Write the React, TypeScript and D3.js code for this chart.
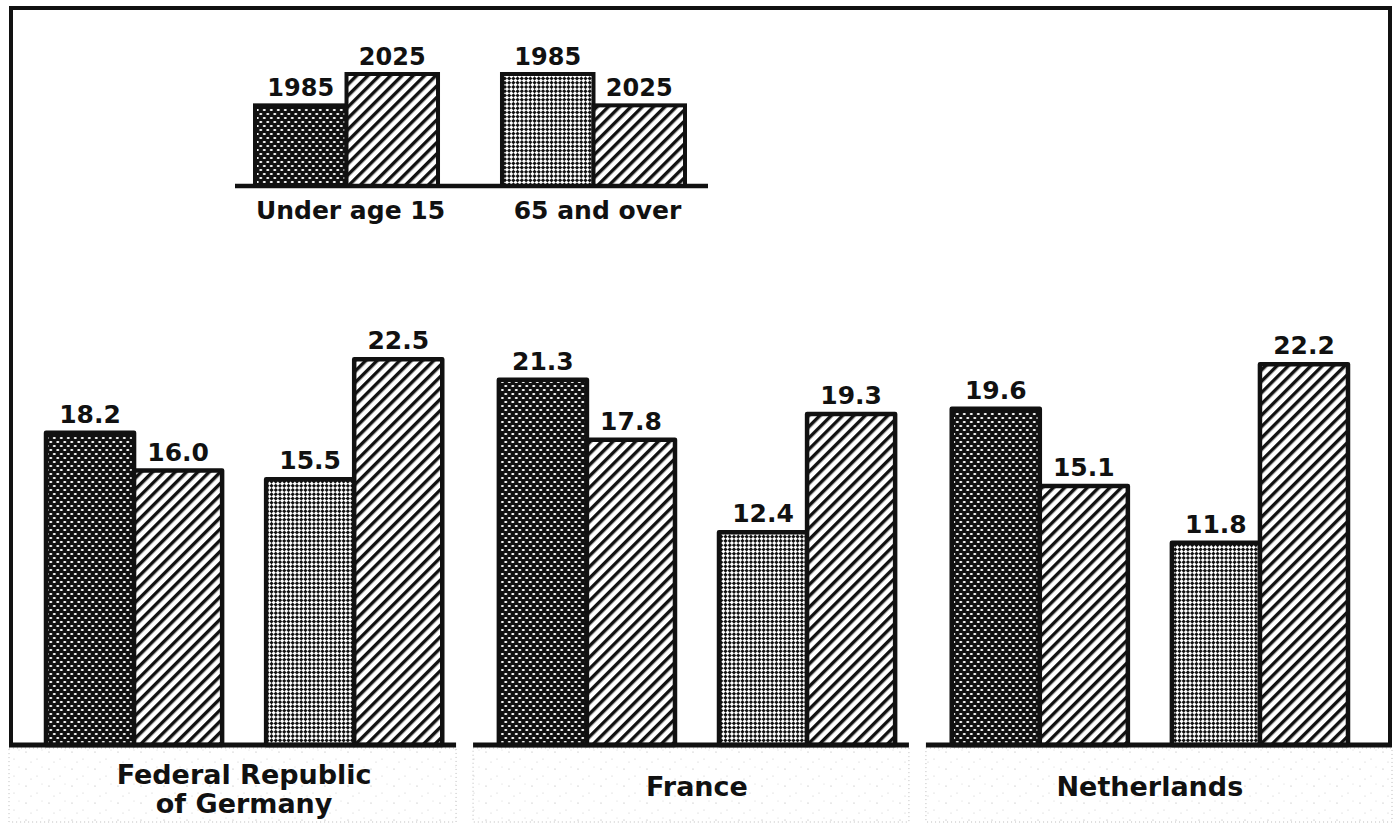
import * as d3 from "d3";

// values (percent of population)
const countries = ["Federal Republic of Germany", "France", "Netherlands"];
const countryLines = [["Federal Republic", "of Germany"], ["France"], ["Netherlands"]];
const ageGroups = ["Under age 15", "65 and over"];
const years = ["1985", "2025"];
const under15_1985 = [18.2, 21.3, 19.6];
const under15_2025 = [16.0, 17.8, 15.1];
const over65_1985 = [15.5, 12.4, 11.8];
const over65_2025 = [22.5, 19.3, 22.2];
// key bars are only relative heights
const keyUnder15 = [0.72, 1];
const keyOver65 = [1, 0.72];

const W = 1397;
const H = 826;
const FONT = "'DejaVu Sans', 'Liberation Sans', sans-serif";
const fmt = d3.format(".1f");

const baseY = 745;
const frameL = 11;
const frameR = 1390;
const frameT = 8;

const fillFor = (age: string, year: string) =>
  year === "2025" ? "url(#hatch)" : age === ageGroups[0] ? "url(#dark)" : "url(#light)";

export default function App() {
  const x0 = d3.scaleBand().domain(countries).range([46, 1348]).paddingInner(0.125);
  const x1 = d3.scaleBand().domain(ageGroups).range([0, x0.bandwidth()]).paddingInner(0.2);
  const x2 = d3.scaleBand().domain(years).range([0, x1.bandwidth()]);
  const y = d3.scaleLinear().domain([0, 25]).range([baseY, baseY - 25 * 17.15]);

  const rows = countries.flatMap((c, i) => [
    { c, age: ageGroups[0], year: years[0], v: under15_1985[i] },
    { c, age: ageGroups[0], year: years[1], v: under15_2025[i] },
    { c, age: ageGroups[1], year: years[0], v: over65_1985[i] },
    { c, age: ageGroups[1], year: years[1], v: over65_2025[i] },
  ]);

  // key
  const kBase = 186;
  const kx1 = d3.scaleBand().domain(ageGroups).range([255, 685]).paddingInner(0.259);
  const kx2 = d3.scaleBand().domain(years).range([0, kx1.bandwidth()]);
  const ky = d3.scaleLinear().domain([0, 1]).range([kBase, 74]);
  const keyRows = ageGroups.flatMap((age, i) =>
    years.map((year, j) => ({ age, year, v: (i === 0 ? keyUnder15 : keyOver65)[j] }))
  );

  // baseline segments: split a little left of halfway between country groups
  const gap = 17;
  const shift = 6;
  const segs = countries.map((c, i) => {
    const start = x0(c)!;
    const end = start + x0.bandwidth();
    const left =
      i === 0 ? frameL - 2 : (x0(countries[i - 1])! + x0.bandwidth() + start) / 2 + gap / 2 - shift;
    const right =
      i === countries.length - 1 ? frameR + 2 : (end + x0(countries[i + 1])!) / 2 - gap / 2 - shift;
    return { c, left, right };
  });

  return (
    <svg
      width={W}
      height={H}
      style={{ position: "absolute", left: 0, top: 0, background: "#fff" }}
      fontFamily={FONT}
      fontWeight="bold"
    >
      <defs>
        <pattern id="dark" width="7" height="8" patternUnits="userSpaceOnUse">
          <rect width="7" height="8" fill="#111" />
          <ellipse cx="1.8" cy="2" rx="1.6" ry="1.1" fill="#fff" />
          <ellipse cx="5.3" cy="6" rx="1.6" ry="1.1" fill="#fff" />
        </pattern>
        <pattern id="light" width="6" height="6" patternUnits="userSpaceOnUse" patternTransform="rotate(45)">
          <rect width="6" height="6" fill="#fff" />
          <rect width="3" height="3" fill="#111" />
          <rect x="3" y="3" width="3" height="3" fill="#111" />
        </pattern>
        <pattern id="hatch" width="8" height="8" patternUnits="userSpaceOnUse" patternTransform="rotate(45)">
          <rect width="8" height="8" fill="#fff" />
          <rect width="3.4" height="8" fill="#111" />
        </pattern>
        <pattern id="speck" width="23" height="17" patternUnits="userSpaceOnUse">
          <circle cx="3" cy="4" r="0.6" fill="#aaa" />
          <circle cx="14" cy="11" r="0.5" fill="#bbb" />
          <circle cx="19" cy="2" r="0.5" fill="#ccc" />
          <circle cx="8" cy="14" r="0.5" fill="#bbb" />
        </pattern>
      </defs>

      {/* speckled label strips under the baselines */}
      {segs.map((s) => (
        <rect
          key={"strip" + s.c}
          x={s.left}
          y={baseY + 3}
          width={s.right - s.left}
          height={822 - baseY - 3}
          fill="url(#speck)"
          stroke="#bbb"
          strokeWidth={1}
          strokeDasharray="1 3"
        />
      ))}

      {/* frame */}
      <path
        d={`M${frameL},${baseY} V${frameT} H${frameR} V${baseY}`}
        fill="none"
        stroke="#111"
        strokeWidth={4}
      />

      {/* bars */}
      {rows.map((d) => {
        const x = x0(d.c)! + x1(d.age)! + x2(d.year)!;
        return (
          <g key={d.c + d.age + d.year}>
            <rect
              x={x}
              y={y(d.v)}
              width={x2.bandwidth()}
              height={baseY - y(d.v)}
              fill={fillFor(d.age, d.year)}
              stroke="#111"
              strokeWidth={4.5}
              strokeLinejoin="round"
            />
            <text x={x + x2.bandwidth() / 2} y={y(d.v) - 10} textAnchor="middle" fontSize={25} fill="#111">
              {fmt(d.v)}
            </text>
          </g>
        );
      })}

      {/* baselines */}
      {segs.map((s) => (
        <line key={"base" + s.c} x1={s.left} x2={s.right} y1={baseY} y2={baseY} stroke="#111" strokeWidth={5} />
      ))}

      {/* country labels */}
      {countries.map((c, i) => {
        const lines = countryLines[i];
        const cx = x0(c)! + x0.bandwidth() / 2;
        const top = lines.length > 1 ? 784 : 796;
        return (
          <text key={"lab" + c} x={cx} y={top} textAnchor="middle" fontSize={27} fill="#111">
            {lines.map((t, k) => (
              <tspan key={t} x={cx} dy={k === 0 ? 0 : 29}>
                {t}
              </tspan>
            ))}
          </text>
        );
      })}

      {/* key */}
      {keyRows.map((d) => {
        const x = kx1(d.age)! + kx2(d.year)!;
        return (
          <g key={"key" + d.age + d.year}>
            <rect
              x={x}
              y={ky(d.v)}
              width={kx2.bandwidth()}
              height={kBase - ky(d.v)}
              fill={fillFor(d.age, d.year)}
              stroke="#111"
              strokeWidth={4}
            />
            <text x={x + kx2.bandwidth() / 2} y={ky(d.v) - 9} textAnchor="middle" fontSize={24} fill="#111">
              {d.year}
            </text>
          </g>
        );
      })}
      <line x1={235} x2={708} y1={kBase} y2={kBase} stroke="#111" strokeWidth={4.5} />
      {ageGroups.map((a) => (
        <text
          key={"kl" + a}
          x={kx1(a)! + kx1.bandwidth() / 2 + 4}
          y={219}
          textAnchor="middle"
          fontSize={25}
          fill="#111"
        >
          {a}
        </text>
      ))}
    </svg>
  );
}
